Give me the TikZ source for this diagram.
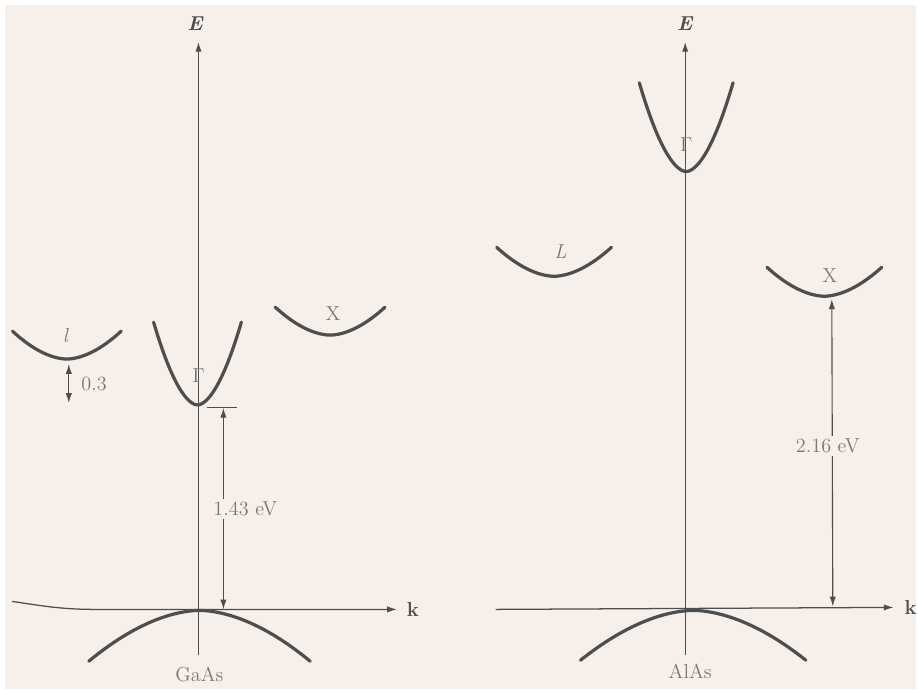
\documentclass[tikz,border=0pt]{standalone}
\usetikzlibrary{arrows.meta,positioning}
\definecolor{paper}{HTML}{F7EFE9}
\definecolor{ink}{HTML}{4E4E4E}
\definecolor{lbl}{HTML}{787878}
\tikzset{
  >={Latex[length=7pt,width=4.5pt]},
  axis/.style={->,draw=ink,line width=0.9pt},
  band/.style={draw=ink,line width=2.3pt,line cap=round},
  gap/.style={<->,draw=ink,line width=0.8pt},
  bar/.style={draw=ink,line width=0.8pt},
  lab/.style={text=lbl,font=\Large,inner sep=1pt},
  gaplab/.style={lab,fill=paper,inner sep=2pt},
  axlab/.style={text=ink,font=\Large\bfseries,inner sep=1pt},
}
% valley: centre x, extreme y, half width, depth (negative = downward)
\newcommand{\valley}[4]{%
  \draw[band] plot[domain={#1-#3}:{#1+#3},samples=60]
    (\x,{#2+(#4)*pow((abs(\x-(#1))+0.001)/(#3),1.8)});}

\begin{document}
\begin{tikzpicture}[x=0.025cm,y=-0.025cm]
\fill[white] (0,0) rectangle (918,691);
\fill[paper] (5,5) rectangle (918,691);

% ---------- GaAs ----------
\coordinate (gE0) at (199,657);
\node[axlab] (gE) at (196,24) {\textit{E}};
\coordinate (gEt) at (199,42);
\draw[axis] (gE0) -- (gEt);
\coordinate (gk0) at (12,603);
\coordinate (gk1) at (95,611);
\coordinate (gkt) at (398,611);
\node[axlab] (gk) at (414,611) {k};
\draw[axis] (gk0) .. controls (40,607) and (60,611) .. (gk1) -- (gkt);

\valley{200}{612}{111}{51}
\valley{198}{406}{44}{-83}
\valley{67}{360}{54.5}{-28}
\valley{331}{336}{55}{-28}

\node[lab] (gG) at (199,377) {$\Gamma$};
\node[lab] (gL) at (66,336) {\textit{l}};
\node[lab] (gX) at (334,314) {X};
\node[lab] (gname) at (200,676) {GaAs};

\coordinate (lt) at (69,365);
\coordinate (lb) at (69,404);
\draw[gap] (lt) -- (lb);
\node[lab,anchor=west] (l03) at (80,385) {0.3};

\coordinate (b0) at (208,409);
\coordinate (b1) at (238,409);
\draw[bar] (b0) -- (b1);
\coordinate (gt) at (224,409);
\coordinate (gb) at (224,611);
\draw[gap] (gt) -- (gb);
\node[gaplab] (g143) at (246,510) {1.43 eV};

% ---------- AlAs ----------
\coordinate (aE0) at (687,657);
\node[axlab] (aE) at (687,24) {\textit{E}};
\coordinate (aEt) at (687,42);
\draw[axis] (aE0) -- (aEt);
\coordinate (ak0) at (497,611);
\coordinate (akt) at (896,609);
\node[axlab] (ak) at (913,609) {k};
\draw[axis] (ak0) -- (akt);

\valley{695}{612}{113}{50}
\valley{688}{172}{47}{-89}
\valley{555.5}{277}{57.5}{-29}
\valley{826.5}{297}{57.5}{-29}

\node[lab] (aG) at (688,145) {$\Gamma$};
\node[lab] (aL) at (562,252) {\textit{L}};
\node[lab] (aX) at (832,276) {X};
\node[lab] (aname) at (692,673) {AlAs};

\coordinate (xt) at (834,300);
\coordinate (xb) at (835,608);
\draw[gap] (xt) -- (xb);
\node[gaplab] (a216) at (830,447) {2.16 eV};
\end{tikzpicture}
\end{document}
